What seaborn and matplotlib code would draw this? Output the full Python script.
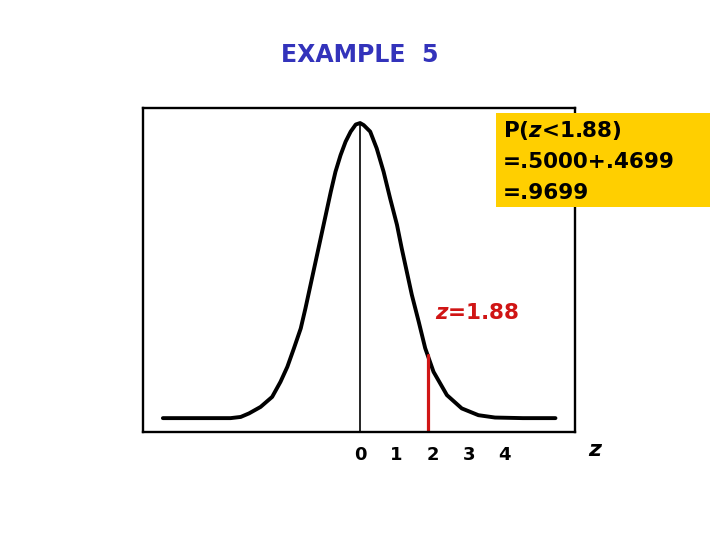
#Aim: standard normal curve, P(z<1.88)
import pandas as pd
import seaborn as sns
import matplotlib.pyplot as plt
from matplotlib.patches import Rectangle

# curve points (z, relative height)
curve_z = [-5.45, -4.5, -3.58, -3.30, -3.07, -2.75, -2.43, -2.20, -2.01, -1.83, -1.64, -1.51,
           -1.37, -1.23, -1.09, -0.95, -0.81, -0.68, -0.54, -0.40, -0.26, -0.12, 0.0,
           0.10, 0.28, 0.46, 0.65, 0.83, 1.02, 1.15, 1.29, 1.43, 1.62, 1.80, 2.03, 2.40,
           2.81, 3.27, 3.73, 4.5, 5.40]
curve_h = [0.0, 0.0, 0.0, 0.004, 0.016, 0.038, 0.072, 0.123, 0.174, 0.236, 0.304, 0.372,
           0.451, 0.530, 0.609, 0.688, 0.767, 0.835, 0.891, 0.937, 0.971, 0.995, 1.0,
           0.993, 0.971, 0.914, 0.835, 0.745, 0.655, 0.576, 0.497, 0.418, 0.327, 0.237,
           0.157, 0.078, 0.033, 0.010, 0.002, 0.0, 0.0]
tick_vals = [0, 1, 2, 3, 4]
z_cut = 1.88
h_cut = 0.214
peak = 1.0

sns.set_style("white")
plt.rcParams['font.family'] = ['DejaVu Sans']
plt.rcParams['mathtext.fontset'] = 'custom'
plt.rcParams['mathtext.it'] = 'DejaVu Sans:italic:bold'

fig = plt.figure(figsize=(7.2, 5.4), dpi=100)
ax = fig.add_axes([0.1986, 0.2, 0.6, 0.6])

df = pd.DataFrame({'z': curve_z, 'h': curve_h})
sns.lineplot(data=df, x='z', y='h', ax=ax, color='black', linewidth=2.8, sort=False)
ax.lines[0].set_solid_joinstyle('round')

ymin, ymax = -0.047, 1.051
ax.plot([0, 0], [ymin, peak], color='black', linewidth=1.2)
ax.plot([z_cut, z_cut], [ymin, h_cut], color='#d01515', linewidth=2.3)

ax.set_xlim(-6.0, 5.94)
ax.set_ylim(ymin, ymax)
ax.set_xticks(tick_vals)
ax.set_xticklabels([str(t) for t in tick_vals], fontsize=13, fontweight='bold', color='black')
ax.set_yticks([])
ax.tick_params(axis='x', length=0, pad=10)
ax.set_xlabel('')
ax.set_ylabel('')
for s in ax.spines.values():
    s.set_color('black')
    s.set_linewidth(1.7)

fig.text(0.5, 0.898, 'EXAMPLE  5', ha='center', va='center', fontsize=17,
         fontweight='bold', color='#3333bb')

fig.patches.append(Rectangle((496 / 720, 1 - 207 / 540), 214 / 720, 94 / 540,
                             transform=fig.transFigure, facecolor='#ffcf00',
                             edgecolor='none', zorder=5))
box_lines = ['P($z$<1.88)', '=.5000+.4699', '=.9699']
for i, line in enumerate(box_lines):
    fig.text(503 / 720, 1 - (130 + 31.5 * i) / 540, line, ha='left', va='center',
             fontsize=15.5, fontweight='bold', color='black', zorder=6)

fig.text(435 / 720, 1 - 313 / 540, '$z$=1.88', ha='left', va='center', fontsize=15.5,
         fontweight='bold', color='#d01515')
fig.text(596 / 720, 1 - 450 / 540, '$z$', ha='center', va='center', fontsize=16,
         color='black')

plt.savefig('out.png', dpi=100)
